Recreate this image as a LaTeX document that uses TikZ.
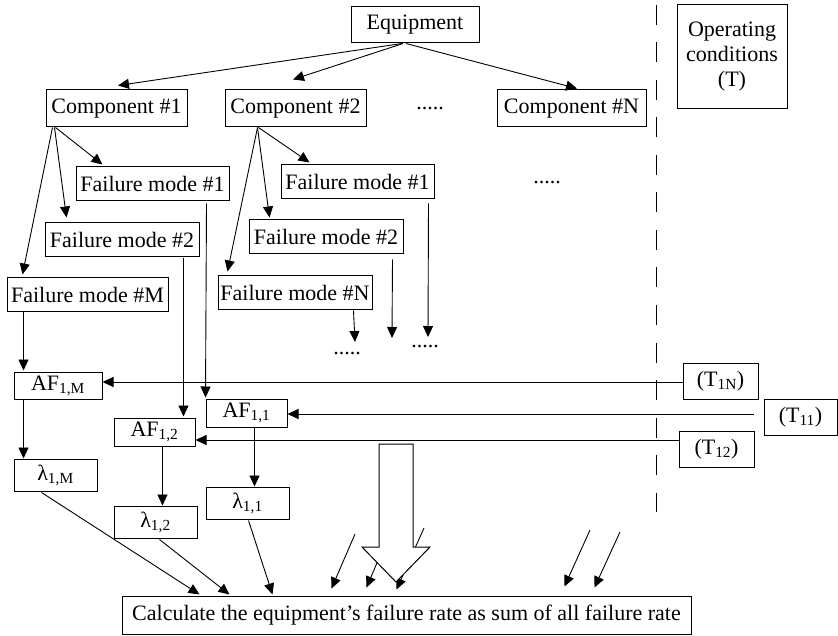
\documentclass[tikz,border=0pt]{standalone}
\usepackage{fontspec}
\setmainfont{Liberation Serif}
\usetikzlibrary{arrows.meta}
\begin{document}
\begin{tikzpicture}[x=1pt,y=-1pt,
  box/.style={draw, line width=1pt, inner sep=0pt, align=center,
              font=\fontsize{22}{25}\selectfont},
  arr/.style={line width=0.9pt, -{Triangle[length=11pt,width=10pt]}},
  ln/.style={line width=0.9pt},
  dotrow/.style={inner sep=0pt, anchor=base, font=\fontsize{22}{25}\selectfont}]
\useasboundingbox (0,0) rectangle (838,636);

% top level
\node[box, minimum width=128pt, minimum height=36pt] (eq) at (415,25) {Equipment};
\node[box, minimum width=110pt, minimum height=104pt] (opc) at (732,57)
  {Operating\\conditions\\(T)};

% components
\node[box, minimum width=141pt, minimum height=37pt] (c1) at (116.5,108.5) {Component \#1};
\node[box, minimum width=141pt, minimum height=37pt] (c2) at (295.5,108.5) {Component \#2};
\node[box, minimum width=149pt, minimum height=37pt] (cN) at (571.5,108.5) {Component \#N};
\node[dotrow] (d1) at (430,110) {.....};

% failure modes
\node[box, minimum width=153pt, minimum height=34pt] (f11) at (152.5,184) {Failure mode \#1};
\node[box, minimum width=154pt, minimum height=34pt] (f12) at (122,240) {Failure mode \#2};
\node[box, minimum width=161pt, minimum height=34pt] (f1M) at (87.5,295) {Failure mode \#M};
\node[box, minimum width=153pt, minimum height=34pt] (f21) at (357.5,182) {Failure mode \#1};
\node[box, minimum width=154pt, minimum height=34pt] (f22) at (326,237) {Failure mode \#2};
\node[box, minimum width=154pt, minimum height=34pt] (f2N) at (295,293) {Failure mode \#N};
\node[dotrow] (d2) at (547,184) {.....};
\node[dotrow] (d3) at (425,348) {.....};
\node[dotrow] (d4) at (347,354) {.....};

% acceleration factors
\node[box, minimum width=88pt, minimum height=27pt] (af1M) at (58,385.5) {AF\textsubscript{1,M}};
\node[box, minimum width=81pt, minimum height=28pt] (af11) at (246.5,413) {AF\textsubscript{1,1}};
\node[box, minimum width=81pt, minimum height=28pt] (af12) at (154.5,432) {AF\textsubscript{1,2}};

% failure rates
\node[box, minimum width=83pt, minimum height=32pt] (l1M) at (55.5,475) {λ\textsubscript{1,M}};
\node[box, minimum width=83pt, minimum height=32pt] (l12) at (155.5,522) {λ\textsubscript{1,2}};
\node[box, minimum width=83pt, minimum height=32pt] (l11) at (247.5,503) {λ\textsubscript{1,1}};

% operating conditions per failure mode
\node[box, minimum width=75pt, minimum height=36pt] (t1N) at (720.5,381) {(T\textsubscript{1N})};
\node[box, minimum width=73pt, minimum height=36pt] (t11) at (800.5,417) {(T\textsubscript{11})};
\node[box, minimum width=75pt, minimum height=36pt] (t12) at (716.5,449) {(T\textsubscript{12})};

% result
\node[box, minimum width=569pt, minimum height=38pt] (calc) at (406.5,615)
  {Calculate the equipment’s failure rate as sum of all failure rate};

% separator
\draw[ln, dash pattern=on 20pt off 17.5pt] (656,5) -- (656,512);

% equipment -> components
\draw[arr] ([xshift=-13pt]eq.south) -- ([xshift=1.5pt,yshift=4pt]c1.north);
\draw[arr] ([xshift=-12pt]eq.south) -- ([xshift=-2.5pt,yshift=10pt]c2.north);
\draw[arr] ([xshift=-9pt]eq.south) -- ([xshift=5.5pt,yshift=1pt]cN.north);

% components -> failure modes
\draw[arr] ([xshift=10pt]c1.south west) -- ([xshift=27pt,yshift=2pt]f11.north west);
\draw[arr] ([xshift=9pt]c1.south west) -- ([xshift=22pt,yshift=5pt]f12.north west);
\draw[arr] ([xshift=7pt]c1.south west) -- ([xshift=16pt,yshift=3pt]f1M.north west);
\draw[arr] ([xshift=34pt]c2.south west) -- ([xshift=29pt,yshift=2pt]f21.north west);
\draw[arr] ([xshift=33pt]c2.south west) -- ([xshift=21pt,yshift=2pt]f22.north west);
\draw[arr] ([xshift=33pt]c2.south west) -- ([xshift=10pt,yshift=4pt]f2N.north west);

% failure modes -> acceleration factors
\draw[arr] ([xshift=-23pt,yshift=-2pt]f11.south east) -- ([yshift=1pt]af11.north west);
\draw[arr] ([xshift=-16pt,yshift=-1pt]f12.south east) -- ([xshift=-12pt,yshift=1pt]af12.north east);
\draw[arr] ([xshift=17pt]f1M.south west) -- ([xshift=10pt,yshift=1pt]af1M.north west);

% second component continues
\coordinate (e21) at (428,337);
\coordinate (e22) at (392,338);
\coordinate (e2N) at (355,342);
\draw[arr] ([xshift=-6pt,yshift=-4pt]f21.south east) -- (e21);
\draw[arr] ([xshift=-11pt,yshift=-5pt]f22.south east) -- (e22);
\draw[arr] ([xshift=-19pt]f2N.south east) -- (e2N);

% operating conditions -> acceleration factors
\draw[arr] ([yshift=-1pt]t1N.west) -- ([yshift=3.5pt]af1M.east);
\draw[arr] ([xshift=-10pt,yshift=3pt]t11.west) -- ([yshift=-1pt]af11.east);
\draw[arr] ([yshift=9pt]t12.west) -- ([yshift=-8pt]af12.east);

% acceleration factors -> failure rates
\draw[arr] ([xshift=10pt]af1M.south west) -- ([xshift=10pt]l1M.north west);
\draw[arr] ([xshift=49pt]af12.south west) -- ([xshift=49pt]l12.north west);
\draw[arr] ([xshift=49pt]af11.south west) -- ([xshift=49pt]l11.north west);

% failure rates -> result
\draw[arr] ([xshift=28pt,yshift=-1pt]l1M.south west) -- ([xshift=78pt,yshift=1pt]calc.north west);
\draw[arr] ([xshift=46pt,yshift=-1pt]l12.south west) -- ([xshift=108pt,yshift=1pt]calc.north west);
\draw[arr] ([xshift=43pt,yshift=-1pt]l11.south west) -- ([xshift=151pt,yshift=1pt]calc.north west);

% contributions of the other components
\coordinate (s1) at (355,534);
\coordinate (s2) at (391,530);
\coordinate (s3) at (424,528);
\coordinate (s4) at (590,530);
\coordinate (s5) at (620,532);
\draw[arr] (s1) -- ([xshift=210pt,yshift=7pt]calc.north west);
\draw[arr] (s2) -- ([xshift=245pt,yshift=8pt]calc.north west);
\draw[arr] (s3) -- ([xshift=275pt,yshift=6pt]calc.north west);
\draw[arr] (s4) -- ([xshift=443pt,yshift=9pt]calc.north west);
\draw[arr] (s5) -- ([xshift=473pt,yshift=8pt]calc.north west);

% big hollow arrow
\draw[line width=1pt, fill=white] (379,444) -- (413,444) -- (413,547) -- (430,547)
  -- (396,582) -- (362,547) -- (379,547) -- cycle;
\end{tikzpicture}
\end{document}
